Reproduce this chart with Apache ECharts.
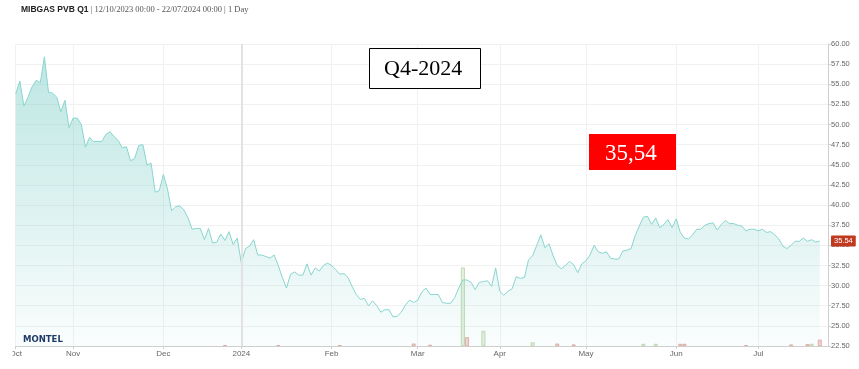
<!DOCTYPE html>
<html>
<head>
<meta charset="utf-8">
<script src="https://cdn.jsdelivr.net/npm/echarts@6/dist/echarts.min.js"></script>
<style>
html,body{margin:0;padding:0;background:#fff;}
#chart{width:859px;height:369px;}
</style>
</head>
<body>
<div id="chart"></div>
<script>
// ---- data ----
const startDate = '2023-10-12';
const endDate = '2024-07-24';           // axis runs two trading days past the last price
const holidays = ['2023-12-25','2023-12-26','2024-01-01','2024-03-29','2024-04-01','2024-05-01'];
const monthNames = ['Jan','Feb','Mar','Apr','May','Jun','Jul','Aug','Sep','Oct','Nov','Dec'];
const yTicks = {min: 22.5, max: 60, interval: 2.5};
const lastValue = 35.54;

const prices = [
  53.8, 55.4, 52.3, 53.4, 54.7, 55.5, 55.2, 58.4, 54.0, 53.9,
  53.4, 51.6, 53.0, 49.6, 50.8, 50.8, 50.0, 47.2, 48.4, 47.9,
  47.9, 47.9, 48.8, 49.1, 48.5, 48.0, 47.1, 47.25, 45.5, 45.8,
  47.4, 47.5, 45.0, 45.2, 41.6, 41.8, 43.8, 42.0, 39.3, 39.8,
  39.9, 39.4, 38.4, 37.0, 37.1, 37.1, 35.7, 37.1, 35.3, 35.4,
  36.4, 35.6, 36.7, 35.1, 35.9, 32.8, 34.6, 34.9, 35.7, 33.8,
  33.8, 33.6, 33.4, 33.8, 32.5, 31.0, 29.7, 31.4, 31.7, 31.3,
  31.3, 32.7, 31.3, 32.2, 31.8, 32.5, 32.8, 32.5, 32.0, 31.4,
  31.5, 31.0, 29.9, 28.9, 28.3, 28.4, 27.5, 28.1, 27.5, 26.7,
  27.0, 27.0, 26.1, 26.2, 26.7, 27.6, 28.2, 27.9, 28.2, 29.2,
  29.7, 28.9, 28.9, 28.9, 27.9, 27.8, 27.8, 28.5, 29.7, 30.7,
  30.7, 30.4, 29.5, 30.4, 30.5, 30.6, 29.9, 32.2, 29.3, 28.8,
  29.3, 29.6, 31.1, 30.9, 31.0, 33.2, 33.7, 35.0, 36.3, 34.7,
  35.2, 33.7, 32.5, 32.1, 32.5, 33.0, 32.6, 31.6, 32.7, 33.1,
  33.8, 35.0, 34.2, 34.0, 34.2, 33.4, 33.3, 33.3, 34.3, 34.4,
  34.6, 36.2, 37.4, 38.5, 38.6, 37.6, 38.4, 37.2, 37.6, 38.2,
  37.2, 38.3, 36.6, 35.9, 35.8, 36.3, 37.0, 37.0, 37.5, 37.7,
  37.8, 36.9, 37.6, 38.1, 37.7, 37.7, 37.5, 37.4, 36.8, 37.0,
  37.0, 36.8, 37.0, 36.6, 36.7, 36.3, 35.8, 34.9, 34.6, 35.0,
  35.5, 35.5, 35.9, 35.5, 35.7, 35.4, 35.54
];

// volume bars: [trading-day index, relative height]
const volGreen = [[109, 26], [114, 5], [126, 1.2], [153, 0.7], [156, 0.7], [194, 0.7]];
const volRed = [[51, 0.3], [64, 0.3], [79, 0.3], [97, 0.8], [101, 0.4], [110, 2.9], [132, 0.8],
                [136, 0.5], [162, 0.7], [163, 0.7], [178, 0.3], [189, 0.5], [193, 0.6], [196, 2.1]];

// ---- trading-day categories ----
function pad(n){return n < 10 ? '0' + n : '' + n;}
const dates = [];
(function(){
  const d = new Date(startDate + 'T00:00:00Z');
  const e = new Date(endDate + 'T00:00:00Z');
  while (d <= e) {
    const s = d.getUTCFullYear() + '-' + pad(d.getUTCMonth() + 1) + '-' + pad(d.getUTCDate());
    const wd = d.getUTCDay();
    if (wd !== 0 && wd !== 6 && holidays.indexOf(s) < 0) dates.push(s);
    d.setUTCDate(d.getUTCDate() + 1);
  }
})();
const monthStart = dates.map((s, i) => i === 0 || s.slice(0, 7) !== dates[i - 1].slice(0, 7));
const firstOfYear = dates.find((s, i) => monthStart[i] && s.slice(5, 7) === '01');
function isMonthStart(i){ return !!monthStart[i]; }

const chart = echarts.init(document.getElementById('chart'), null, {renderer: 'canvas'});
chart.setOption({
  animation: false,
  backgroundColor: '#fff',
  grid: {left: 15.7, right: 31, top: 44, bottom: 23, containLabel: false},
  xAxis: {
    type: 'category',
    data: dates,
    boundaryGap: false,
    axisLine: {lineStyle: {color: '#cfcfcf', width: 1}},
    axisTick: {show: true, interval: isMonthStart, length: 3, lineStyle: {color: '#cfcfcf'}},
    axisLabel: {
      interval: isMonthStart,
      margin: 4,
      fontSize: 8,
      color: '#666',
      fontFamily: 'Liberation Sans',
      formatter: function(v){
        const m = parseInt(v.slice(5, 7), 10);
        if (m === 1) return v.slice(0, 4);
        return monthNames[m - 1];
      }
    },
    splitLine: {show: true, interval: isMonthStart, lineStyle: {color: '#f1f1f1', width: 1}}
  },
  yAxis: [{
    type: 'value',
    position: 'right',
    min: yTicks.min, max: yTicks.max, interval: yTicks.interval,
    axisLine: {show: true, lineStyle: {color: '#cfcfcf'}},
    axisTick: {show: true, length: 3, lineStyle: {color: '#cfcfcf'}},
    axisLabel: {fontSize: 7.5, color: '#666', margin: 3, fontFamily: 'Liberation Sans',
      formatter: v => v.toFixed(2)},
    splitLine: {show: true, lineStyle: {color: '#f1f1f1', width: 1}}
  }, {
    type: 'value', min: 0, max: 100, show: false, splitLine: {show: false}
  }],
  series: [{
    type: 'line',
    data: prices,
    symbol: 'none',
    smooth: false,
    lineStyle: {color: '#88d5cf', width: 1},
    areaStyle: {
      color: new echarts.graphic.LinearGradient(0, 0, 0, 1, [
        {offset: 0, color: 'rgba(115,203,196,0.68)'},
        {offset: 1, color: 'rgba(115,203,196,0.05)'}
      ])
    },
    z: 3,
    markLine: {
      silent: true,
      symbol: ['none', 'none'],
      animation: false,
      data: [
        {xAxis: firstOfYear, lineStyle: {color: '#e2e2e2', width: 2, type: 'solid'}, label: {show: false}},
        {yAxis: lastValue, lineStyle: {color: 'rgba(0,0,0,0)', width: 1}, label: {
          show: true, position: 'end', distance: 3,
          formatter: lastValue.toFixed(2),
          backgroundColor: '#c0391f', color: '#fff', fontSize: 7.5,
          fontFamily: 'Liberation Sans', padding: [2, 3, 1, 3], borderRadius: 1
        }}
      ]
    }
  }, {
    type: 'bar',
    yAxisIndex: 1,
    data: volGreen,
    barWidth: 4,
    barGap: '-100%',
    itemStyle: {color: '#e4efdd', borderColor: '#b9d3ab', borderWidth: 0.8},
    z: 2
  }, {
    type: 'bar',
    yAxisIndex: 1,
    data: volRed,
    barWidth: 4,
    barGap: '-100%',
    itemStyle: {color: '#f3d3cf', borderColor: '#dba49c', borderWidth: 0.8},
    z: 2
  }],
  graphic: [
    {type: 'rect', left: 0, top: 347, z: 100, shape: {width: 12.5, height: 22}, style: {fill: '#fff'}},
    {type: 'text', left: 21, top: 5, z: 100, style: {
      text: '{b|MIBGAS PVB Q1}{n| | 12/10/2023 00:00 - 22/07/2024 00:00 | 1 Day}',
      rich: {
        b: {fontFamily: 'Liberation Sans', fontWeight: 'bold', fontSize: 8.5, fill: '#222'},
        n: {fontFamily: 'Liberation Serif', fontSize: 8.5, fill: '#555'}
      }
    }},
    {type: 'text', left: 23, top: 335, z: 100, style: {
      text: 'MONTEL', fontFamily: 'DejaVu Sans', fontWeight: 'bold', fontSize: 8.5, fill: '#1f3a66'
    }},
    {type: 'rect', left: 369, top: 48, z: 100, shape: {width: 111, height: 40},
     style: {fill: '#fff', stroke: '#000', lineWidth: 1}},
    {type: 'text', left: 384, top: 58, z: 101, style: {text: 'Q4-2024',
     fontFamily: 'Liberation Serif', fontSize: 22, fill: '#000'}},
    {type: 'rect', left: 589, top: 134, z: 100, shape: {width: 87, height: 36}, style: {fill: '#ff0000'}},
    {type: 'text', left: 605, top: 142, z: 101, style: {text: '35,54',
     fontFamily: 'Liberation Serif', fontSize: 23, fill: '#fff'}}
  ]
});
</script>
</body>
</html>
